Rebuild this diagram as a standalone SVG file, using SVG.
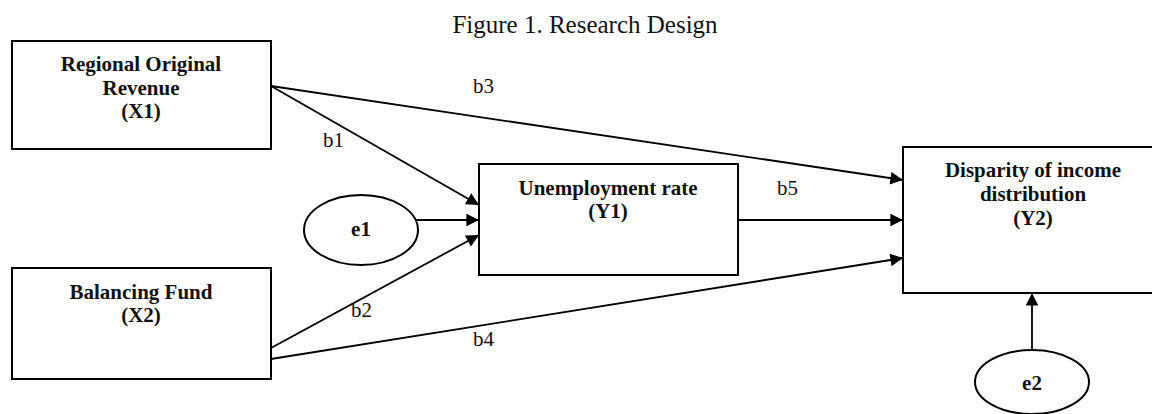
<svg xmlns="http://www.w3.org/2000/svg" width="1152" height="414" viewBox="0 0 1152 414">
<style>
.box{fill:#fff;stroke:#000;stroke-width:2}
.ell{fill:#fff;stroke:#000;stroke-width:2}
.nt{font-family:"Liberation Serif","Times New Roman",serif;font-weight:bold;font-size:21px;text-anchor:middle;fill:#111}
.lb{font-family:"Liberation Serif","Times New Roman",serif;font-size:21px;fill:#111}
.ttl{font-family:"Liberation Serif","Times New Roman",serif;font-size:25px;fill:#111;text-anchor:middle}
.edge{stroke:#000;stroke-width:1.8;fill:none;marker-end:url(#ah)}
</style>
<defs>
<marker id="ah" viewBox="0 0 10 10" refX="10" refY="5" markerWidth="8" markerHeight="7" markerUnits="strokeWidth" orient="auto">
<path d="M0,0 L10,5 L0,10 z" fill="#000"/>
</marker>
</defs>
<rect width="1152" height="414" fill="#fff"/>
<text class="ttl" x="585" y="33">Figure 1. Research Design</text>
<g id="connectors">
<line class="edge" x1="271" y1="86" x2="903" y2="180"/>
<line class="edge" x1="271" y1="86" x2="479" y2="205"/>
<line class="edge" x1="416" y1="220" x2="479" y2="220"/>
<line class="edge" x1="271" y1="348" x2="479" y2="235"/>
<line class="edge" x1="271" y1="359" x2="903" y2="258"/>
<line class="edge" x1="738" y1="220" x2="903" y2="220"/>
<line class="edge" x1="1032" y1="350" x2="1032" y2="293"/>
<text class="lb" x="473" y="93">b3</text>
<text class="lb" x="323" y="147">b1</text>
<text class="lb" x="777" y="195">b5</text>
<text class="lb" x="351" y="317">b2</text>
<text class="lb" x="473" y="346">b4</text>
</g>
<g id="X1">
<rect class="box" x="12" y="41" width="259" height="108"/>
<text class="nt" x="141" y="71">Regional Original</text>
<text class="nt" x="141" y="95">Revenue</text>
<text class="nt" x="141" y="118">(X1)</text>
</g>
<g id="X2">
<rect class="box" x="12" y="268" width="259" height="111"/>
<text class="nt" x="141" y="299">Balancing Fund</text>
<text class="nt" x="141" y="322">(X2)</text>
</g>
<g id="Y1">
<rect class="box" x="479" y="164" width="259" height="111"/>
<text class="nt" x="608" y="195">Unemployment rate</text>
<text class="nt" x="608" y="218">(Y1)</text>
</g>
<g id="Y2">
<rect class="box" x="903" y="147" width="260" height="146"/>
<text class="nt" x="1033" y="177">Disparity of income</text>
<text class="nt" x="1033" y="201">distribution</text>
<text class="nt" x="1033" y="225">(Y2)</text>
</g>
<g id="e1">
<ellipse class="ell" cx="361" cy="230" rx="57" ry="35"/>
<text class="nt" x="361" y="236">e1</text>
</g>
<g id="e2">
<ellipse class="ell" cx="1032" cy="382" rx="57" ry="32"/>
<text class="nt" x="1032" y="390">e2</text>
</g>
</svg>
